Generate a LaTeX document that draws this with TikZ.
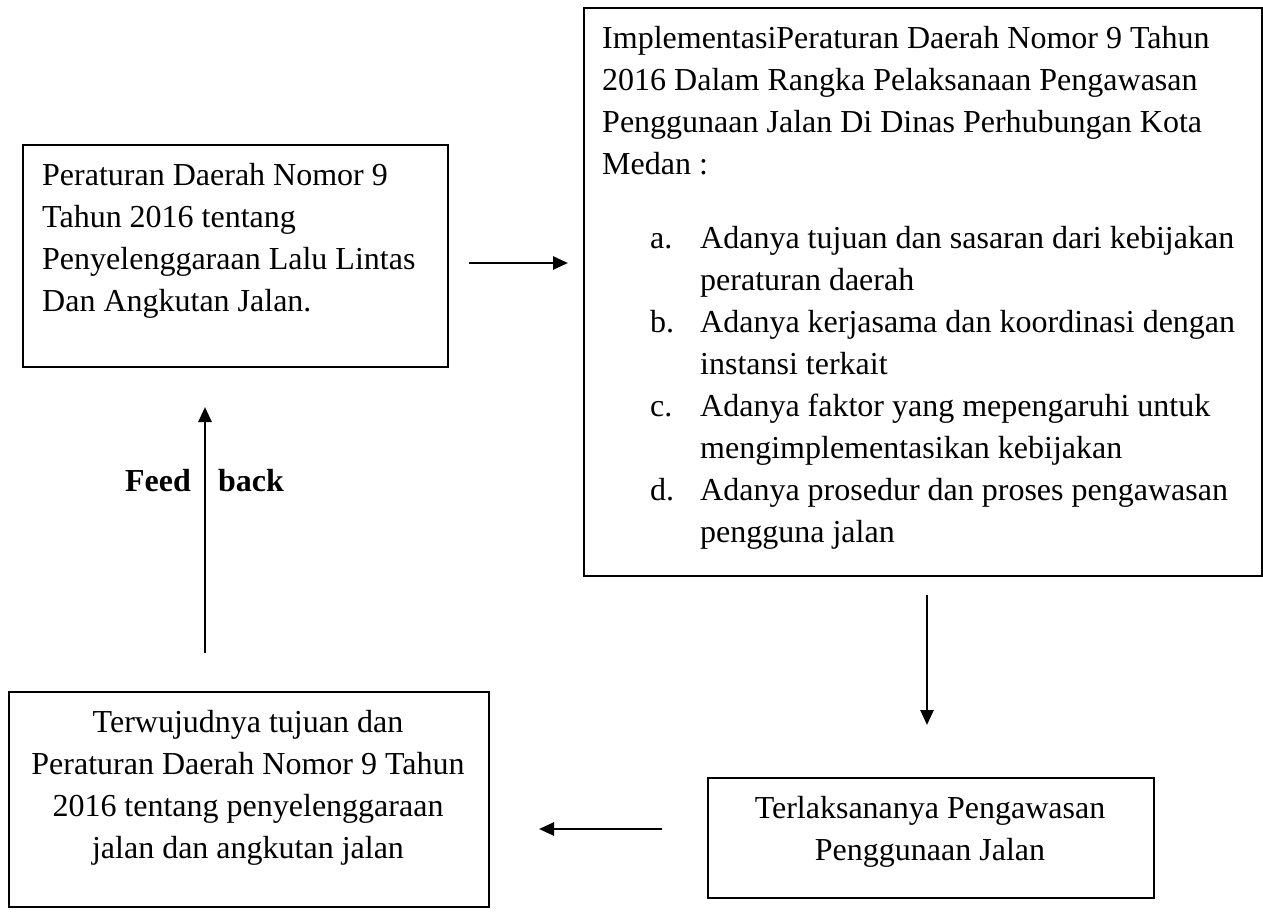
\documentclass[tikz,border=0pt]{standalone}
\usepackage{fontspec}
\setmainfont{Liberation Serif}
\usepackage{tikz}
\usetikzlibrary{arrows.meta, positioning}

\newcommand{\poinlabel}[1]{\hspace*{48pt}\makebox[50pt][l]{#1}}
\newcommand{\poinlanjut}{\hspace*{98pt}}

\tikzset{
    frame/.style={draw, line width=2pt, rectangle, anchor=north west, inner sep=0pt},
    txt/.style={inner sep=0pt, font=\fontsize{32}{42}\selectfont},
    flow/.style={line width=2.6pt, -{Triangle[length=15pt, width=13pt]}}
}

\begin{document}
\begin{tikzpicture}[x=1pt, y=-1pt]
        \useasboundingbox (0,0) rectangle (1263,912);

        % kotak-kotak
        \node[frame, minimum width=425pt, minimum height=222pt] (perda) at (22,144) {};
        \node[frame, minimum width=678pt, minimum height=568pt] (impl) at (583,7) {};
        \node[frame, minimum width=446pt, minimum height=120pt] (laksana) at (707,777) {};
        \node[frame, minimum width=480pt, minimum height=215pt] (wujud) at (8,691) {};

        % teks
        \node[txt, anchor=north west, align=left] (perdaTxt) at (42,163)
            {Peraturan Daerah Nomor 9\\Tahun 2016 tentang\\Penyelenggaraan Lalu Lintas\\Dan Angkutan Jalan.};
        \node[txt, anchor=north west, align=left] (implTxt) at (602,26)
            {ImplementasiPeraturan Daerah Nomor 9 Tahun\\
             2016 Dalam Rangka Pelaksanaan Pengawasan\\
             Penggunaan Jalan Di Dinas Perhubungan Kota\\
             Medan :\\[32pt]
             \poinlabel{a.}Adanya tujuan dan sasaran dari kebijakan\\
             \poinlanjut peraturan daerah\\
             \poinlabel{b.}Adanya kerjasama dan koordinasi dengan\\
             \poinlanjut instansi terkait\\
             \poinlabel{c.}Adanya faktor yang mepengaruhi untuk\\
             \poinlanjut mengimplementasikan kebijakan\\
             \poinlabel{d.}Adanya prosedur dan proses pengawasan\\
             \poinlanjut pengguna jalan};
        \node[txt, anchor=north, align=center] (laksanaTxt) at (930,796)
            {Terlaksananya Pengawasan\\Penggunaan Jalan};
        \node[txt, anchor=north, align=center] (wujudTxt) at (248,710)
            {Terwujudnya tujuan dan\\Peraturan Daerah Nomor 9 Tahun\\2016 tentang penyelenggaraan\\jalan dan angkutan jalan};

        % panah
        \coordinate (rowA) at (0,263);
        \coordinate (colB) at (927,0);
        \coordinate (rowC) at (0,829);
        \coordinate (colA) at (205,0);
        \draw[flow, shorten <=20pt, shorten >=15pt] (perda.east |- rowA) -- (impl.west |- rowA);
        \draw[flow, shorten <=18pt, shorten >=52pt] (impl.south -| colB) -- (laksana.north -| colB);
        \draw[flow, shorten <=45pt, shorten >=49pt] (laksana.west |- rowC) -- (wujud.east |- rowC);
        \draw[flow, shorten <=38pt, shorten >=39pt] (wujud.north -| colA) -- (perda.south -| colA);

        % label umpan balik
        \node[txt, anchor=base east, font=\fontsize{32}{42}\selectfont\bfseries] (feed) at (191,491) {Feed};
        \node[txt, anchor=base west, font=\fontsize{32}{42}\selectfont\bfseries] (back) at (218,491) {back};
    \end{tikzpicture}
\end{document}
